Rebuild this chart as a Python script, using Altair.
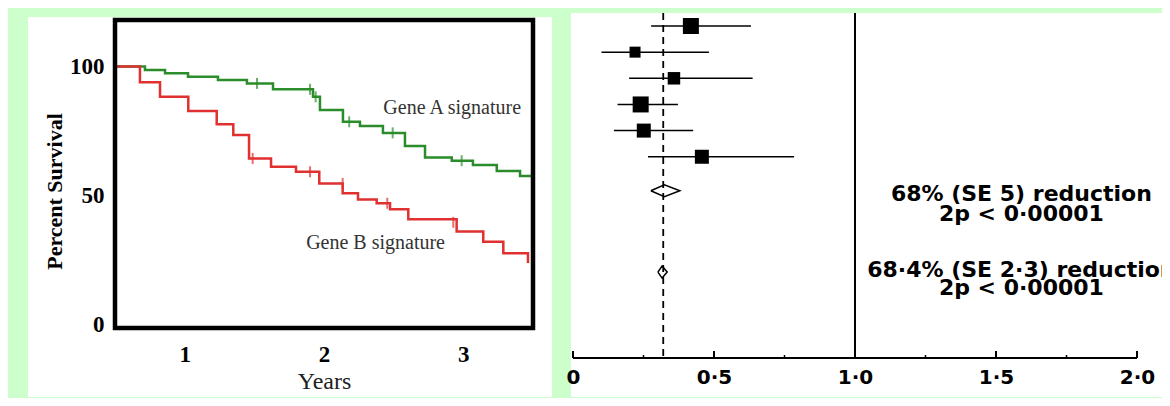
import altair as alt
import pandas as pd

# ---------------- data: left panel (Kaplan-Meier survival) ----------------
green_years = [0.5, 0.715, 0.859, 1.024, 1.239, 1.447, 1.634, 1.921, 1.971, 2.136,
               2.258, 2.423, 2.581, 2.725, 2.917, 3.069, 3.240, 3.407, 3.5]
green_pct = [100, 98.6, 97.3, 96.0, 94.7, 93.4, 91.1, 88.2, 83.1, 78.5,
             76.9, 74.2, 69.1, 64.7, 63.4, 61.7, 59.4, 57.5, 57.5]
red_years = [0.5, 0.679, 0.823, 1.026, 1.230, 1.349, 1.462, 1.620, 1.799, 1.966,
             2.134, 2.244, 2.378, 2.474, 2.605, 2.952, 3.143, 3.287, 3.464]
red_pct = [100, 93.8, 88.2, 82.7, 77.6, 73.4, 64.3, 61.1, 59.1, 54.6,
           50.8, 48.4, 46.9, 44.6, 40.7, 35.9, 32.0, 27.5, 23.7]
green_cens_years = [1.519, 1.900, 1.940, 2.181, 2.493, 2.988]
green_cens_pct = [93.4, 91.1, 88.2, 78.5, 74.2, 63.4]
red_cens_years = [1.488, 1.900, 2.134, 2.454, 2.928]
red_cens_pct = [64.3, 59.1, 54.6, 46.9, 39.5]
curve_labels = ["Gene A signature", "Gene B signature"]
curve_label_years = [2.92, 2.37]
curve_label_pct = [83.9, 31.5]
km_x_ticks = [1, 2, 3]
km_y_ticks = [0, 50, 100]

# ---------------- data: right panel (forest plot) ----------------
study_row = [1, 2, 3, 4, 5, 6]
study_est = [0.418, 0.220, 0.358, 0.240, 0.251, 0.457]
study_lo = [0.277, 0.101, 0.199, 0.158, 0.145, 0.266]
study_hi = [0.631, 0.482, 0.637, 0.372, 0.426, 0.784]
study_weight = [256, 121, 156, 256, 196, 196]
pooled_row = [7.30, 10.41]
pooled_est = [0.324, 0.316]
pooled_lo = [0.276, 0.301]
pooled_hi = [0.379, 0.334]
overall_ref = 0.32
null_ref = 1.0
fp_ticks_major = [0, 0.5, 1.5, 2.0]
fp_ticks_minor = [0.25, 0.75, 1.25, 1.75]
fp_axis_range = [0, 2.0]
fp_x_labels = [0, 0.5, 1.0, 1.5, 2.0]
note_text = ["68% (SE 5) reduction", "2p < 0·00001",
             "68·4% (SE 2·3) reduction", "2p < 0·00001"]
note_row = [7.69, 8.47, 10.61, 11.28]
note_x = 1.59

# ---------------- layout / style ----------------
BG = "#ccffcc"
GREEN = "#2a8c2a"
RED = "#e03030"
W1, H1 = 418, 308
W2, H2 = 589, 338
SERIF = "Liberation Serif"
SANS = "DejaVu Sans"

one = pd.DataFrame({"a": [0]})

# ---------------- left chart ----------------
km_lines = pd.concat([
    pd.DataFrame({"year": green_years, "pct": green_pct, "grp": "A", "k": range(len(green_years))}),
    pd.DataFrame({"year": red_years, "pct": red_pct, "grp": "B", "k": range(len(red_years))}),
])
km_cens = pd.concat([
    pd.DataFrame({"year": green_cens_years, "pct": green_cens_pct, "grp": "A"}),
    pd.DataFrame({"year": red_cens_years, "pct": red_cens_pct, "grp": "B"}),
])
km_text = pd.DataFrame({"year": curve_label_years, "pct": curve_label_pct, "txt": curve_labels})

xs = alt.Scale(domain=[0.5, 3.5], nice=False, zero=False)
ys = alt.Scale(domain=[-1.5, 118], nice=False, zero=False)
x_axis = alt.Axis(values=km_x_ticks, title="Years", ticks=False, domain=False, grid=False,
                  labelFont=SERIF, labelFontSize=23, labelFontWeight="bold", labelColor="black",
                  labelPadding=15, labelFlush=False, labelOverlap=False, labelAngle=0,
                  titleFont=SERIF, titleFontSize=24, titleFontWeight="normal", titleColor="#222",
                  titleX=209, titleY=60, titleBaseline="alphabetic", titleAlign="center", zindex=1)
y_axis = alt.Axis(values=km_y_ticks, title="Percent Survival", ticks=False, domain=False, grid=False,
                  labelFont=SERIF, labelFontSize=23, labelFontWeight="bold", labelColor="black",
                  labelPadding=11, labelOverlap=False,
                  titleFont=SERIF, titleFontSize=22, titleFontWeight="bold", titleColor="black",
                  titleAngle=270, titleX=-61, titleY=171, titleAlign="center",
                  titleBaseline="middle", zindex=1)
X = alt.X("year:Q", scale=xs, axis=x_axis)
Y = alt.Y("pct:Q", scale=ys, axis=y_axis)
col = alt.Color("grp:N", scale=alt.Scale(domain=["A", "B"], range=[GREEN, RED]), legend=None)

green_bg = alt.Chart(one).mark_rect(fill=BG).encode(
    x=alt.value(-107), x2=alt.value(1047), y=alt.value(-12), y2=alt.value(378))
white_left = alt.Chart(one).mark_rect(fill="white").encode(
    x=alt.value(-87), x2=alt.value(437), y=alt.value(-3), y2=alt.value(377))
lines = alt.Chart(km_lines).mark_line(interpolate="step-after", strokeWidth=2.5).encode(
    x=X, y=Y, color=col, detail="grp:N", order="k:Q")
cens = alt.Chart(km_cens).mark_tick(orient="vertical", size=11, thickness=2).encode(
    x=X, y=Y, color=col)
ann = alt.Chart(km_text).mark_text(font=SERIF, fontSize=20, color="#333",
                                   align="center", baseline="middle").encode(
    x=X, y=Y, text="txt:N")
frame = alt.Chart(one).mark_rect(fillOpacity=0, stroke="black", strokeWidth=4.5).encode(
    x=alt.value(0), x2=alt.value(W1), y=alt.value(0), y2=alt.value(H1))

left = alt.layer(green_bg, white_left, lines, cens, ann, frame).properties(width=W1, height=H1)

# ---------------- right chart ----------------
studies = pd.DataFrame({"row": study_row, "est": study_est, "lo": study_lo,
                        "hi": study_hi, "weight": study_weight})
dh = 0.23
dia_rows = []
for i in range(len(pooled_row)):
    r, e, lo, hi = pooled_row[i], pooled_est[i], pooled_lo[i], pooled_hi[i]
    pts = [(lo, r), (e, r - dh), (hi, r), (e, r + dh), (lo, r)]
    for k, (px, py) in enumerate(pts):
        dia_rows.append({"id": i, "k": k, "est": px, "row": py})
dia = pd.DataFrame(dia_rows)
notes = pd.DataFrame({"est": [note_x] * len(note_text), "row": note_row, "txt": note_text})

fx = alt.Scale(domain=[0, W2 / 282.0], nice=False, zero=False)
fy = alt.Scale(domain=[0.7706, 13.696], reverse=True, nice=False, zero=False)
fx_axis = alt.Axis(values=fp_x_labels,
                   labelExpr="datum.value == 0 ? '0' : replace(format(datum.value, '.1f'), '.', '·')",
                   ticks=False, domain=False, grid=False, title=None,
                   labelFont=SANS, labelFontSize=20, labelFontWeight="bold", labelColor="black",
                   labelPadding=9, labelFlush=False, labelOverlap=False, zindex=1)
FX = lambda f: alt.X(f"{f}:Q", scale=fx, axis=fx_axis)
FY = alt.Y("row:Q", scale=fy, axis=None)

white_right = alt.Chart(one).mark_rect(fill="white").encode(
    x=alt.value(-2), x2=alt.value(W2), y=alt.value(-7), y2=alt.value(377))
axis_line = alt.Chart(pd.DataFrame({"x0": [fp_axis_range[0]], "x1": [fp_axis_range[1]]})).mark_rule(
    color="black", strokeWidth=2).encode(x=FX("x0"), x2="x1:Q", y=alt.value(H2))
major = alt.Chart(pd.DataFrame({"t": fp_ticks_major})).mark_rule(color="black", strokeWidth=2).encode(
    x=FX("t"), y=alt.value(H2 - 7), y2=alt.value(H2))
minor = alt.Chart(pd.DataFrame({"t": fp_ticks_minor})).mark_rule(color="black", strokeWidth=1.5).encode(
    x=FX("t"), y=alt.value(H2 - 3), y2=alt.value(H2))
null_line = alt.Chart(pd.DataFrame({"t": [null_ref]})).mark_rule(color="black", strokeWidth=2).encode(
    x=FX("t"), y=alt.value(-7), y2=alt.value(H2))
dash_line = alt.Chart(pd.DataFrame({"t": [overall_ref]})).mark_rule(
    color="black", strokeWidth=1.8, strokeDash=[7, 5]).encode(
    x=FX("t"), y=alt.value(-7), y2=alt.value(H2))
ci = alt.Chart(studies).mark_rule(color="black", strokeWidth=1.5).encode(
    x=FX("lo"), x2="hi:Q", y=FY)
boxes = alt.Chart(studies).mark_square(color="black", filled=True, opacity=1).encode(
    x=FX("est"), y=FY, size=alt.Size("weight:Q", scale=None, legend=None))
diamonds = alt.Chart(dia).mark_line(color="black", strokeWidth=1.5).encode(
    x=FX("est"), y=FY, detail="id:N", order="k:Q")
note_marks = alt.Chart(notes).mark_text(font=SANS, fontSize=22, fontWeight="bold", color="black",
                                        align="center", baseline="alphabetic", clip=True).encode(
    x=FX("est"), y=FY, text="txt:N")

right = alt.layer(white_right, dash_line, null_line, axis_line, major, minor,
                  ci, boxes, diamonds, note_marks).properties(width=W2, height=H2)

chart = alt.hconcat(left, right, spacing=40, bounds="flush").properties(
    padding=0, background=BG).configure_view(strokeWidth=0)

chart.save("out.html", embed_options={"renderer": "svg", "actions": False})
